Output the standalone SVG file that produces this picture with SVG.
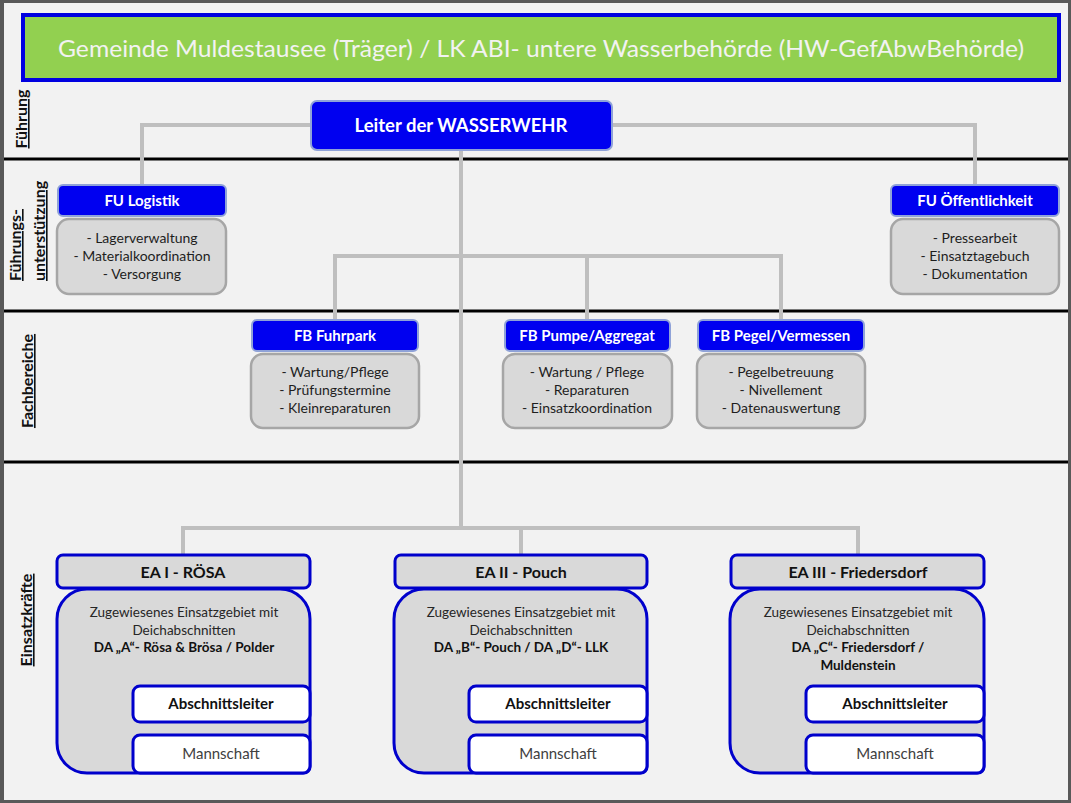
<svg xmlns="http://www.w3.org/2000/svg" width="1071" height="803" viewBox="0 0 1071 803">
<style>
text{font-family:Lato,"Liberation Sans",sans-serif;}
.hdr{fill:#0000f0;stroke:#8fa2d8;stroke-width:2;}
.body{fill:#d9d9d9;stroke:#a6a6a6;stroke-width:2.5;}
.ht{fill:#ffffff;font-weight:bold;font-size:15px;text-anchor:middle;}
.lt{fill:#1e1e1e;font-size:14px;text-anchor:middle;}
.div{stroke:#000;stroke-width:3;}
.con{fill:none;stroke:#bfbfbf;stroke-width:4;}
.sec{fill:#111;font-weight:bold;font-size:16px;text-decoration:underline;}
.eah{fill:#d9d9d9;stroke:#0000cc;stroke-width:3;}
.eab{fill:#d9d9d9;stroke:#0000cc;stroke-width:3;}
.wb{fill:#ffffff;stroke:#0000cc;stroke-width:3;}
.eat{fill:#111;font-weight:bold;font-size:16px;text-anchor:middle;}
.et{fill:#262626;font-size:13.5px;text-anchor:middle;}
.etb{fill:#111;font-weight:bold;font-size:13.5px;text-anchor:middle;}
.wt{fill:#111;font-weight:bold;font-size:15px;text-anchor:middle;}
.mt{fill:#404040;font-size:15px;text-anchor:middle;}
</style>
<rect x="0" y="0" width="1071" height="803" fill="#595959"/>
<rect x="4" y="3" width="1064" height="797" fill="#f2f2f2"/>

<g id="dividers">
<line class="div" x1="4" y1="159" x2="1068" y2="159"/>
<line class="div" x1="4" y1="311" x2="1068" y2="311"/>
<line class="div" x1="4" y1="462" x2="1068" y2="462"/>
</g>

<g id="section-labels">
<text class="sec" transform="translate(27,119) rotate(-90)" text-anchor="middle">Führung</text>
<text class="sec" transform="translate(21,281) rotate(-90)">Führungs-</text>
<text class="sec" transform="translate(45,281) rotate(-90)">unterstützung</text>
<text class="sec" transform="translate(33,381) rotate(-90)" text-anchor="middle">Fachbereiche</text>
<text class="sec" transform="translate(32,620) rotate(-90)" text-anchor="middle">Einsatzkräfte</text>
</g>

<g id="banner">
<rect x="23" y="15" width="1036" height="65" fill="#92d050" stroke="#0000e0" stroke-width="4"/>
<text x="541" y="57" fill="#f2f2f2" font-size="24" text-anchor="middle" textLength="966" lengthAdjust="spacingAndGlyphs">Gemeinde Muldestausee (Träger) / LK ABI- untere Wasserbehörde (HW-GefAbwBehörde)</text>
</g>

<g id="connectors">
<polyline class="con" points="311,125 142,125 142,185"/>
<polyline class="con" points="612,125 975,125 975,185"/>
<line class="con" x1="461" y1="150" x2="461" y2="530"/>
<polyline class="con" points="335,320 335,256 781,256 781,320"/>
<line class="con" x1="587" y1="256" x2="587" y2="320"/>
<polyline class="con" points="183,555 183,528 858,528 858,555"/>
<line class="con" x1="521" y1="528" x2="521" y2="555"/>
</g>

<g id="leiter">
<rect class="hdr" x="311" y="101" width="301" height="49" rx="6"/>
<text x="461" y="132" fill="#fff" font-weight="bold" font-size="18.5" text-anchor="middle">Leiter der WASSERWEHR</text>
</g>

<g id="fu-logistik">
<rect class="body" x="57" y="219" width="169" height="75" rx="12"/>
<rect class="hdr" x="58" y="185" width="168" height="31" rx="5"/>
<text class="ht" x="142" y="206">FU Logistik</text>
<text class="lt" x="142" y="243">- Lagerverwaltung</text>
<text class="lt" x="142" y="261">- Materialkoordination</text>
<text class="lt" x="142" y="279">- Versorgung</text>
</g>

<g id="fu-oeffentlichkeit">
<rect class="body" x="891" y="219" width="168" height="75" rx="12"/>
<rect class="hdr" x="891" y="185" width="168" height="31" rx="5"/>
<text class="ht" x="975" y="206">FU Öffentlichkeit</text>
<text class="lt" x="975" y="243">- Pressearbeit</text>
<text class="lt" x="975" y="261">- Einsatztagebuch</text>
<text class="lt" x="975" y="279">- Dokumentation</text>
</g>

<g id="fb-fuhrpark">
<rect class="body" x="251" y="354" width="168" height="74" rx="12"/>
<rect class="hdr" x="252" y="320" width="166" height="31" rx="5"/>
<text class="ht" x="335" y="341">FB Fuhrpark</text>
<text class="lt" x="335" y="377">- Wartung/Pflege</text>
<text class="lt" x="335" y="395">- Prüfungstermine</text>
<text class="lt" x="335" y="413">- Kleinreparaturen</text>
</g>

<g id="fb-pumpe">
<rect class="body" x="503" y="354" width="169" height="74" rx="12"/>
<rect class="hdr" x="505" y="320" width="165" height="31" rx="5"/>
<text class="ht" x="587" y="341">FB Pumpe/Aggregat</text>
<text class="lt" x="587" y="377">- Wartung / Pflege</text>
<text class="lt" x="587" y="395">- Reparaturen</text>
<text class="lt" x="587" y="413">- Einsatzkoordination</text>
</g>

<g id="fb-pegel">
<rect class="body" x="697" y="354" width="168" height="74" rx="12"/>
<rect class="hdr" x="698" y="320" width="166" height="31" rx="5"/>
<text class="ht" x="781" y="341">FB Pegel/Vermessen</text>
<text class="lt" x="781" y="377">- Pegelbetreuung</text>
<text class="lt" x="781" y="395">- Nivellement</text>
<text class="lt" x="781" y="413">- Datenauswertung</text>
</g>

<g id="ea-1">
<path class="eab" d="M87 589 H280 A30 30 0 0 1 310 619 V767 A6 6 0 0 1 304 773 H87 A30 30 0 0 1 57 743 V619 A30 30 0 0 1 87 589 Z"/>
<rect class="eah" x="57" y="555" width="253" height="33" rx="6"/>
<text class="eat" x="183" y="578">EA I - RÖSA</text>
<text class="et" x="184" y="617">Zugewiesenes Einsatzgebiet mit</text>
<text class="et" x="184" y="635">Deichabschnitten</text>
<text class="etb" x="184" y="652">DA „A“- Rösa &amp; Brösa / Polder</text>
<rect class="wb" x="133" y="686" width="177" height="36" rx="7"/>
<text class="wt" x="221" y="709">Abschnittsleiter</text>
<rect class="wb" x="133" y="735" width="177" height="38" rx="7"/>
<text class="mt" x="221" y="759">Mannschaft</text>
</g>

<g id="ea-2">
<path class="eab" d="M424 589 H617 A30 30 0 0 1 647 619 V767 A6 6 0 0 1 641 773 H424 A30 30 0 0 1 394 743 V619 A30 30 0 0 1 424 589 Z"/>
<rect class="eah" x="395" y="555" width="252" height="33" rx="6"/>
<text class="eat" x="521" y="578">EA II - Pouch</text>
<text class="et" x="521" y="617">Zugewiesenes Einsatzgebiet mit</text>
<text class="et" x="521" y="635">Deichabschnitten</text>
<text class="etb" x="521" y="652">DA „B“- Pouch / DA „D“- LLK</text>
<rect class="wb" x="469" y="686" width="178" height="36" rx="7"/>
<text class="wt" x="558" y="709">Abschnittsleiter</text>
<rect class="wb" x="469" y="735" width="178" height="38" rx="7"/>
<text class="mt" x="558" y="759">Mannschaft</text>
</g>

<g id="ea-3">
<path class="eab" d="M760 589 H954 A30 30 0 0 1 984 619 V767 A6 6 0 0 1 978 773 H760 A30 30 0 0 1 730 743 V619 A30 30 0 0 1 760 589 Z"/>
<rect class="eah" x="731" y="555" width="253" height="33" rx="6"/>
<text class="eat" x="858" y="578">EA III - Friedersdorf</text>
<text class="et" x="858" y="617">Zugewiesenes Einsatzgebiet mit</text>
<text class="et" x="858" y="635">Deichabschnitten</text>
<text class="etb" x="858" y="652">DA „C“- Friedersdorf /</text>
<text class="etb" x="858" y="670">Muldenstein</text>
<rect class="wb" x="806" y="686" width="178" height="36" rx="7"/>
<text class="wt" x="895" y="709">Abschnittsleiter</text>
<rect class="wb" x="806" y="735" width="178" height="38" rx="7"/>
<text class="mt" x="895" y="759">Mannschaft</text>
</g>
</svg>
